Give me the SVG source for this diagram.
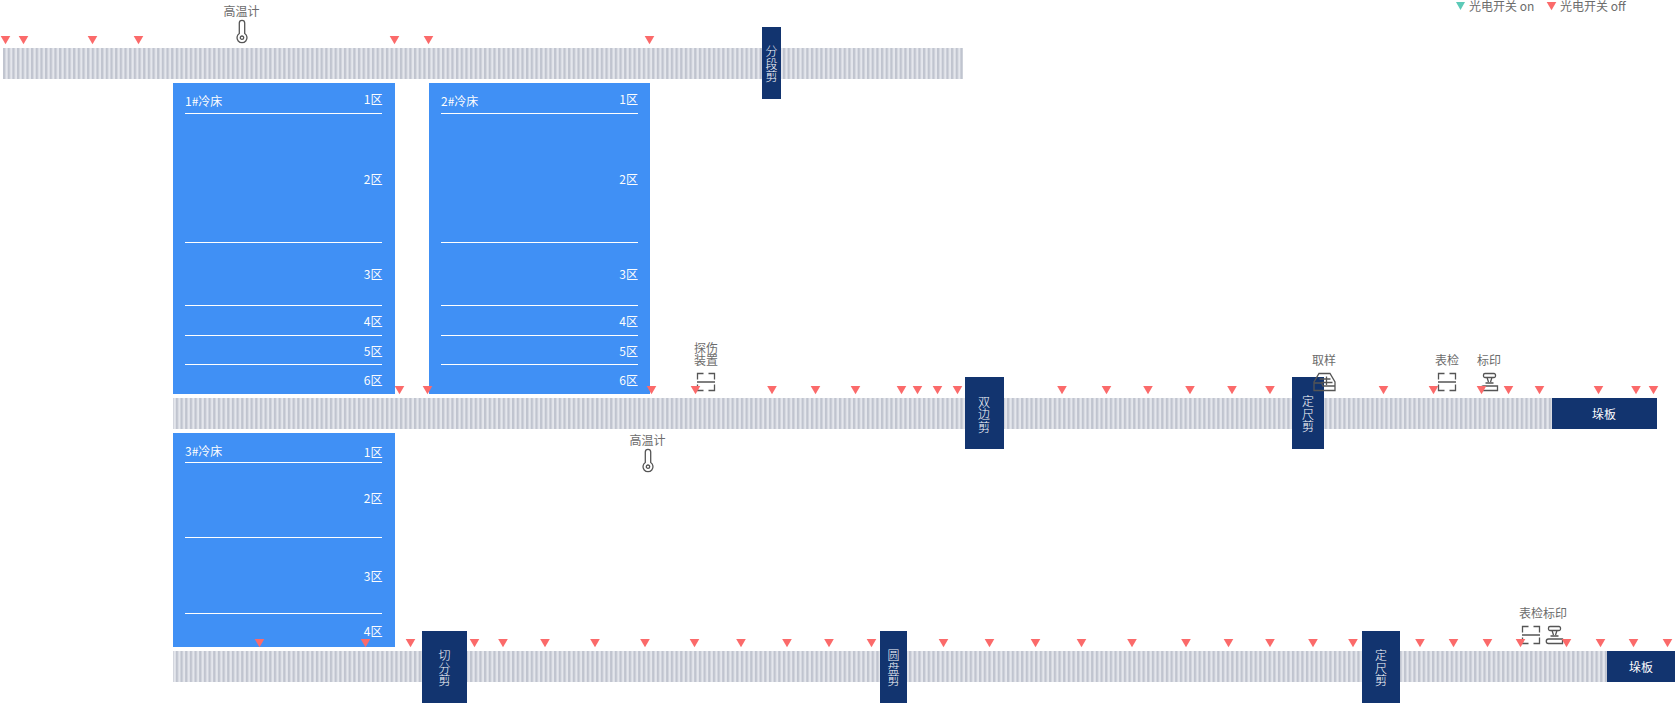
<svg xmlns="http://www.w3.org/2000/svg" width="1675" height="703" viewBox="0 0 1675 703">
<style>
text{font-family:"Noto Sans CJK SC","Noto Sans",sans-serif;font-size:12px;font-weight:400;opacity:.99}
.g{fill:#6b6b6b}
.w{fill:#fff}
.c{font-weight:300}
.m{text-anchor:middle}
.e{text-anchor:end}
.cool{fill:#4090f5}
.dk{fill:#12346f}
.ln{stroke:#fff;stroke-width:1}
.ic{fill:none;stroke:#555;stroke-width:1.3}
</style>
<defs>
<pattern id="st" patternUnits="userSpaceOnUse" width="4.67" height="10" x="3" y="0">
<rect width="4.67" height="10" fill="#e4e6ec"/><rect width="2.33" height="10" fill="#c0c4cf"/>
</pattern>
<path id="off" d="M-4.800 0H4.800L0 8.300Z" fill="#fb6a6a"/>
<g id="thermo" class="ic"><path d="M-2.700 -8a2.700 2.700 0 0 1 5.400 0V2.500a5 5 0 1 1-5.400 0Z"/><circle cx="0" cy="6.700" r="1.700"/></g>
<g id="scan" class="ic"><path d="M-8.500 -2.500V-8.500H-2.500M2.500 -8.500H8.500V-2.500M-8.500 2.500V8.500H-2.500M2.500 8.500H8.500V2.500M-9 0H9"/></g>
<g id="stamp" class="ic"><path d="M-5 -8.500H4a1.500 1.500 0 0 1 1.500 1.500V-6a1.500 1.500 0 0 1-1.500 1.500H-5a1.500 1.500 0 0 1-1.500-1.500V-7a1.500 1.500 0 0 1 1.500-1.500ZM-3 -4.500L-1.500 0M2 -4.500L0.500 0M-4.500 1H3.500M-6.500 4H7.500V8.500H-6.500a2 2 0 0 1 0-4.500Z"/></g>
<g id="box" class="ic"><path d="M-10.500 8.500V0L-5.500 -8.500H5.500L10.500 0V8.500ZM-10.500 1H-3L-1.500 4H10.500M-5 -3H6M-3 0.500H8M2 -5.500V3"/></g>
</defs>
<g id="legend">
<path d="M1456 2H1465L1460.500 10Z" fill="#5ccab8"/><text class="g" x="1469" y="11">光电开关 on</text>
<use href="#off" x="1551.500" y="2"/><text class="g" x="1560" y="11">光电开关 off</text>
</g>
<g id="connectors">
<rect id="line-1" x="3" y="48" width="960" height="31" fill="url(#st)"/>
<rect id="line-2" x="173" y="398" width="1379" height="31" fill="url(#st)"/>
<rect id="line-3" x="173" y="651" width="1434" height="31" fill="url(#st)"/>
</g>
<g id="bed-1">
<rect class="cool" x="173" y="83" width="222" height="311"/>
<path class="ln" d="M185 113.500H382M185 242.500H382M185 305.500H382M185 335.500H382M185 364.500H382"/>
<text class="w" x="185" y="106">1#冷床</text>
<text class="w e" x="382.500" y="104">1区</text><text class="w e" x="382.500" y="184">2区</text><text class="w e" x="382.500" y="279">3区</text><text class="w e" x="382.500" y="326">4区</text><text class="w e" x="382.500" y="356">5区</text><text class="w e" x="382.500" y="385">6区</text>
</g>
<g id="bed-2">
<rect class="cool" x="429" y="83" width="221" height="311"/>
<path class="ln" d="M441 113.500H638M441 242.500H638M441 305.500H638M441 335.500H638M441 364.500H638"/>
<text class="w" x="441" y="106">2#冷床</text>
<text class="w e" x="638" y="104">1区</text><text class="w e" x="638" y="184">2区</text><text class="w e" x="638" y="279">3区</text><text class="w e" x="638" y="326">4区</text><text class="w e" x="638" y="356">5区</text><text class="w e" x="638" y="385">6区</text>
</g>
<g id="bed-3">
<rect class="cool" x="173" y="433" width="222" height="214"/>
<path class="ln" d="M185 462.500H382M185 537.500H382M185 613.500H382"/>
<text class="w" x="185" y="456">3#冷床</text>
<text class="w e" x="382.500" y="457">1区</text><text class="w e" x="382.500" y="503">2区</text><text class="w e" x="382.500" y="581">3区</text><text class="w e" x="382.500" y="636">4区</text>
</g>
<g id="cut-1"><rect class="dk" x="762" y="27" width="19" height="72"/><text class="w m c" y="56"><tspan x="771.500">分</tspan><tspan x="771.500" dy="12.500">段</tspan><tspan x="771.500" dy="12.500">剪</tspan></text></g>
<g id="cut-2"><rect class="dk" x="965" y="377" width="39" height="72"/><text class="w m c" y="406.500"><tspan x="984">双</tspan><tspan x="984" dy="12.500">边</tspan><tspan x="984" dy="12.500">剪</tspan></text></g>
<g id="cut-3"><rect class="dk" x="1292" y="377" width="32" height="72"/><text class="w m c" y="406"><tspan x="1308">定</tspan><tspan x="1308" dy="12.500">尺</tspan><tspan x="1308" dy="12.500">剪</tspan></text></g>
<g id="cut-4"><rect class="dk" x="422" y="631" width="45" height="72"/><text class="w m c" y="660"><tspan x="444.500">切</tspan><tspan x="444.500" dy="12.500">分</tspan><tspan x="444.500" dy="12.500">剪</tspan></text></g>
<g id="cut-5"><rect class="dk" x="880" y="631" width="27" height="72"/><text class="w m c" y="660"><tspan x="893.500">圆</tspan><tspan x="893.500" dy="12.500">盘</tspan><tspan x="893.500" dy="12.500">剪</tspan></text></g>
<g id="cut-6"><rect class="dk" x="1362" y="631" width="38" height="72"/><text class="w m c" y="660"><tspan x="1381">定</tspan><tspan x="1381" dy="12.500">尺</tspan><tspan x="1381" dy="12.500">剪</tspan></text></g>
<g id="slab-1"><rect class="dk" x="1552" y="398" width="105" height="31"/><text class="w m" x="1604" y="419">垛板</text></g>
<g id="slab-2"><rect class="dk" x="1607" y="651" width="68" height="31"/><text class="w m" x="1641" y="671.500">垛板</text></g>
<g id="instruments">
<text class="g m" x="241.500" y="16">高温计</text><use href="#thermo" x="242" y="31"/>
<text class="g m" x="647.500" y="445">高温计</text><use href="#thermo" x="648" y="460"/>
<text class="g m" y="353"><tspan x="706">探伤</tspan><tspan x="706" dy="12">装置</tspan></text><use href="#scan" x="706" y="382"/>
<text class="g m" x="1324" y="365">取样</text><use href="#box" x="1324.500" y="382"/>
<text class="g m" x="1447" y="365">表检</text><use href="#scan" x="1447" y="382"/>
<text class="g m" x="1489" y="365">标印</text><use href="#stamp" x="1490" y="382"/>
<text class="g m" x="1543" y="618">表检标印</text><use href="#scan" x="1531" y="635"/><use href="#stamp" x="1555" y="635"/>
</g>
<g id="sensors">
<use href="#off" x="5.500" y="36"/><use href="#off" x="23.500" y="36"/><use href="#off" x="92.500" y="36"/><use href="#off" x="138.500" y="36"/><use href="#off" x="394.500" y="36"/><use href="#off" x="428.500" y="36"/><use href="#off" x="649.500" y="36"/>
<use href="#off" x="399.500" y="386"/><use href="#off" x="427.500" y="386"/><use href="#off" x="651.500" y="386"/><use href="#off" x="695.500" y="386"/><use href="#off" x="772" y="386"/><use href="#off" x="815.500" y="386"/><use href="#off" x="855.500" y="386"/><use href="#off" x="901.500" y="386"/><use href="#off" x="917.500" y="386"/><use href="#off" x="937.500" y="386"/><use href="#off" x="957.500" y="386"/><use href="#off" x="1062" y="386"/><use href="#off" x="1106.500" y="386"/><use href="#off" x="1148" y="386"/><use href="#off" x="1190" y="386"/><use href="#off" x="1232" y="386"/><use href="#off" x="1270" y="386"/><use href="#off" x="1383.500" y="386"/><use href="#off" x="1433.500" y="386"/><use href="#off" x="1481.500" y="386"/><use href="#off" x="1508.500" y="386"/><use href="#off" x="1539.500" y="386"/><use href="#off" x="1598.500" y="386"/><use href="#off" x="1636" y="386"/><use href="#off" x="1653.500" y="386"/>
<use href="#off" x="259.500" y="639"/><use href="#off" x="365.500" y="639"/><use href="#off" x="410.500" y="639"/><use href="#off" x="474.500" y="639"/><use href="#off" x="503" y="639"/><use href="#off" x="545" y="639"/><use href="#off" x="595" y="639"/><use href="#off" x="645" y="639"/><use href="#off" x="694.500" y="639"/><use href="#off" x="741" y="639"/><use href="#off" x="787" y="639"/><use href="#off" x="829" y="639"/><use href="#off" x="871.500" y="639"/><use href="#off" x="943.500" y="639"/><use href="#off" x="989.500" y="639"/><use href="#off" x="1035.500" y="639"/><use href="#off" x="1081.500" y="639"/><use href="#off" x="1132" y="639"/><use href="#off" x="1186" y="639"/><use href="#off" x="1228.500" y="639"/><use href="#off" x="1270" y="639"/><use href="#off" x="1313" y="639"/><use href="#off" x="1353" y="639"/><use href="#off" x="1420" y="639"/><use href="#off" x="1453.500" y="639"/><use href="#off" x="1487.500" y="639"/><use href="#off" x="1520.500" y="639"/><use href="#off" x="1566.500" y="639"/><use href="#off" x="1600.500" y="639"/><use href="#off" x="1633.500" y="639"/><use href="#off" x="1667.500" y="639"/>
</g>
</svg>
